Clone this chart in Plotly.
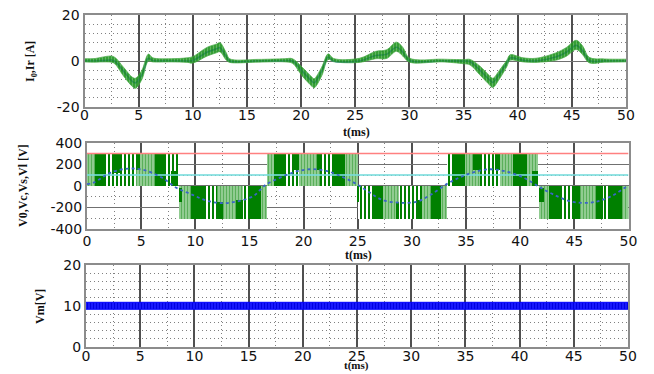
import plotly.graph_objects as go

W, H = 654, 374

# ---------------- data ----------------
t_ticks = [0, 5, 10, 15, 20, 25, 30, 35, 40, 45, 50]
t_ticklabels = ['0', '5', '10', '15', '20', '25', '30', '35', '40', '45', '50']

y1_ticks = [-20, 0, 20]
y1_labels = ['-20', '0', '20']
y2_ticks = [-400, -200, 0, 200, 400]
y2_labels = ['-400', '-200', '0', '200', '400']
y3_ticks = [0, 10, 20]
y3_labels = ['0', '10', '20']

# top panel: I0 (green, noisy) and Ir (blue reference)
i0_t = [0.0, 1.0, 2.0, 2.7, 3.6, 4.4, 4.7, 5.3, 5.9, 6.3,
        8.0, 9.5, 10.0, 11.3, 12.2, 12.5, 13.1, 13.4, 16.0, 18.5,
        19.2, 20.1, 21.0, 21.2, 21.9, 22.5, 23.0, 25.4, 26.9, 27.9,
        28.8, 29.4, 30.0, 33.0, 35.0, 35.6, 36.5, 37.4, 37.7, 38.3,
        39.0, 39.3, 40.5, 41.7, 43.5, 44.5, 45.4, 46.0, 46.6, 48.0,
        50.0]
i0_mid = [0.3, 0.3, 0.8, 0.5, -4.6, -9.0, -9.7, -6.0, 1.5, 0.5,
          0.3, 0.4, 0.5, 4.0, 5.5, 6.0, 1.9, 0.2, 0.1, 0.3,
          0.0, -4.6, -9.0, -9.7, -4.6, 1.9, 0.4, 0.3, 2.6, 3.0,
          6.2, 4.0, 0.4, 0.2, -0.3, -0.5, -4.1, -8.4, -9.5, -6.0,
          -1.0, 1.5, 0.5, 0.3, 1.9, 4.0, 7.0, 4.6, 0.4, 0.2,
          0.2]
i0_spread = [0.7, 0.8, 1.2, 1.4, 1.9, 2.0, 2.2, 2.0, 1.5, 0.9,
             0.7, 1.0, 1.4, 1.9, 1.9, 2.0, 1.6, 0.8, 0.6, 0.7,
             1.0, 1.9, 2.0, 2.0, 1.9, 1.2, 0.7, 0.9, 1.6, 1.9,
             2.0, 1.9, 0.9, 0.6, 0.9, 1.2, 1.9, 2.0, 2.0, 1.9,
             1.4, 1.2, 0.9, 0.9, 1.6, 1.9, 2.0, 1.9, 1.2, 0.7,
             0.6]
ir_v = [0, 0, 0.3, 0.2, -4.4, -8.8, -9.5, -6, 1.2, 0.2,
        0, 0, 0.2, 3.8, 5.3, 5.8, 1.8, 0, 0, 0,
        0, -4.4, -8.8, -9.5, -4.4, 1.7, 0, 0, 2.4, 2.9,
        6, 3.8, 0.2, 0, 0, -0.3, -4, -8.2, -9.3, -5.8,
        -0.8, 1.3, 0.3, 0, 1.7, 3.8, 6.8, 4.4, 0.2, 0,
        0]

# middle panel: V0 PWM blocks (start, end, low, high, kind: L=light, S=striped, D=dark)
seg_t0 = [0.0, 1.7, 4.5, 7.3,
          8.5, 10.8, 12.0, 14.4, 16.1,
          16.6, 18.3, 19.6, 21.5, 23.8,
          25.0, 27.3, 28.8, 30.9, 32.7,
          33.2, 34.9, 36.3, 38.1, 40.6,
          41.7, 43.8, 45.5, 47.6, 49.4,
          0.7, 2.3, 4.5, 6.3, 7.8,
          8.5, 9.6, 12.0, 13.8, 15.0,
          17.3, 19.0, 21.2, 22.7,
          25.0, 26.3, 28.5, 30.4, 31.8,
          33.9, 35.6, 37.7, 39.3, 41.1,
          41.7, 42.7, 45.0, 47.0, 48.2]
seg_t1 = [0.7, 4.5, 6.3, 8.4,
          9.6, 12.0, 14.4, 15.0, 16.6,
          17.3, 19.6, 21.5, 22.7, 25.0,
          26.3, 28.8, 30.9, 31.8, 33.2,
          33.9, 36.3, 38.1, 39.3, 41.6,
          42.7, 45.0, 47.0, 48.2, 50.0,
          1.7, 3.1, 4.9, 7.3, 8.3,
          8.8, 10.8, 12.6, 14.4, 16.1,
          18.3, 19.6, 21.5, 23.8,
          25.15, 27.3, 28.8, 30.9, 32.7,
          34.9, 36.3, 38.1, 40.6, 41.6,
          42.2, 43.8, 45.5, 47.6, 49.4]
seg_lo = [0, 0, 0, 0,
          -300, -300, -300, -300, -300,
          0, 0, 0, 0, 0,
          -300, -300, -300, -300, -300,
          0, 0, 0, 0, 0,
          -300, -300, -300, -300, -300,
          0, 120, 150, 0, 0,
          -150, -300, -300, -300, -300,
          0, 150, 150, 0,
          -150, -300, -300, -300, -300,
          0, 150, 150, 0, 0,
          -150, -300, -300, -300, -300]
seg_hi = [300, 300, 300, 300,
          0, 0, 0, 0, 0,
          300, 300, 300, 300, 300,
          0, 0, 0, 0, 0,
          300, 300, 300, 300, 300,
          0, 0, 0, 0, 0,
          300, 300, 300, 300, 140,
          -20, 0, -150, -130, 0,
          300, 300, 300, 300,
          0, 0, -150, -130, 0,
          300, 300, 300, 300, 140,
          -20, 0, 0, 0, 0]
seg_kind = ['L', 'S', 'L', 'S',
            'L', 'S', 'L', 'S', 'L',
            'L', 'S', 'L', 'S', 'L',
            'S', 'L', 'S', 'L', 'L',
            'S', 'L', 'S', 'L', 'L',
            'L', 'S', 'L', 'S', 'L',
            'D', 'D', 'D', 'D', 'D',
            'D', 'D', 'D', 'D', 'D',
            'D', 'D', 'D', 'D',
            'D', 'D', 'D', 'D', 'D',
            'D', 'D', 'D', 'D', 'D',
            'D', 'D', 'D', 'D', 'D']

# Vc (blue), Vs (red), Vl (cyan)
vc_t = [0, 0.6, 2.2, 3.8, 5.3, 6.9, 8.2, 9.6, 11.1, 12.6, 14.1, 15.4, 16.2,
        16.6, 19.0, 20.6, 22.1, 23.7, 24.9, 26.1, 27.3, 28.8, 30.4, 31.6,
        33.2, 34.4, 35.6, 37.2, 38.7, 40.3, 41.6, 43.0, 44.8, 46.4, 47.3,
        48.5, 49.7, 50]
vc_v = [16, 30, 123, 160, 145, 77, -15, -77, -139, -160, -139, -92, -15,
        16, 123, 154, 139, 77, 16, -62, -132, -156, -148, -92,
        16, 77, 123, 154, 133, 77, 0, -77, -148, -156, -139,
        -92, -15, 0]
vs_t = [0, 50]
vs_v = [300, 300]
vl_t = [0, 50]
vl_v = [100, 100]

# bottom panel: Vm (blue band)
vm_t = [0, 5, 10, 15, 20, 25, 30, 35, 40, 45, 50]
vm_lo = [9.2, 9.2, 9.1, 9.2, 9.2, 9.2, 9.1, 9.2, 9.2, 9.2, 9.2]
vm_hi = [10.9, 10.9, 11.0, 10.9, 10.9, 10.9, 10.9, 11.0, 10.9, 10.9, 10.9]

# ---------------- figure ----------------
def xd(l, r):
    return [l / W, r / W]

def yd(top, bottom):
    return [1 - bottom / H, 1 - top / H]

fig = go.Figure()

# top
lo1 = [m - s for m, s in zip(i0_mid, i0_spread)]
hi1 = [m + s for m, s in zip(i0_mid, i0_spread)]
fig.add_trace(go.Scatter(x=i0_t, y=ir_v, mode='lines', line=dict(color='#1f3fff', width=1.6, shape='spline'),
                         xaxis='x', yaxis='y', showlegend=False))
fig.add_trace(go.Scatter(x=i0_t, y=lo1, mode='lines', line=dict(color='rgba(70,170,70,0.7)', width=1, shape='spline'),
                         xaxis='x', yaxis='y', showlegend=False))
fig.add_trace(go.Scatter(x=i0_t, y=hi1, mode='lines', line=dict(color='rgba(70,170,70,0.7)', width=1, shape='spline'),
                         fill='tonexty', fillcolor='rgba(40,150,40,0.8)',
                         fillpattern=dict(shape='|', fgcolor='#0a850a', bgcolor='rgba(80,180,80,0.75)',
                                          size=3, solidity=0.5),
                         xaxis='x', yaxis='y', showlegend=False))

# middle: bars
styles = {
    'L': dict(color='#86c686', pattern=dict(shape='|', fgcolor='#5aaf5a', bgcolor='#a3d6a3', size=3, solidity=0.5)),
    'S': dict(color='#1a8f1a', pattern=dict(shape='|', fgcolor='#007f00', bgcolor='#ffffff', size=4, solidity=0.5)),
    'D': dict(color='#008000'),
}
for kind in ['L', 'S', 'D']:
    idx = [i for i, k in enumerate(seg_kind) if k == kind]
    xs = [(seg_t0[i] + seg_t1[i]) / 2 for i in idx]
    ws = [seg_t1[i] - seg_t0[i] for i in idx]
    bs = [seg_lo[i] for i in idx]
    hs = [seg_hi[i] - seg_lo[i] for i in idx]
    st = styles[kind]
    marker = dict(color=st['color'], line=dict(width=0))
    if 'pattern' in st:
        marker['pattern'] = st['pattern']
    fig.add_trace(go.Bar(x=xs, y=hs, base=bs, width=ws, marker=marker,
                         xaxis='x2', yaxis='y2', showlegend=False))

fig.add_trace(go.Scatter(x=vs_t, y=vs_v, mode='lines', line=dict(color='#ff8080', width=1.6),
                         xaxis='x2', yaxis='y2', showlegend=False))
fig.add_trace(go.Scatter(x=vl_t, y=vl_v, mode='lines', line=dict(color='rgba(120,220,220,0.8)', width=2),
                         xaxis='x2', yaxis='y2', showlegend=False))
fig.add_trace(go.Scatter(x=vc_t, y=vc_v, mode='lines', line=dict(color='#3a66c8', width=1.8, dash='dot', shape='spline'),
                         xaxis='x2', yaxis='y2', showlegend=False))

# bottom
fig.add_trace(go.Scatter(x=vm_t, y=vm_lo, mode='lines', line=dict(color='#0000ff', width=1),
                         xaxis='x3', yaxis='y3', showlegend=False))
fig.add_trace(go.Scatter(x=vm_t, y=vm_hi, mode='lines', line=dict(color='#0000ff', width=1),
                         fill='tonexty', fillcolor='#0a0aff',
                         fillpattern=dict(shape='|', fgcolor='#0000e0', bgcolor='#1a1aff', size=3, solidity=0.4),
                         xaxis='x3', yaxis='y3', showlegend=False))

tickfont = dict(family='DejaVu Sans', size=14, color='#111')
minor_dash = '1px,3px'

def xaxis(domain, anchor, standoff):
    return dict(domain=domain, anchor=anchor, range=[0, 50], tickmode='array',
                tickvals=t_ticks, ticktext=t_ticklabels, ticks='', tickfont=tickfont,
                automargin=False, ticklabelstandoff=standoff,
                showgrid=True, gridcolor='#505050', gridwidth=1.6, zeroline=False,
                minor=dict(dtick=2.5, tick0=0, showgrid=True, gridcolor='#808080', griddash=minor_dash, gridwidth=1),
                showline=True, mirror=True, linecolor='#8c8c8c', linewidth=2)

def yaxis(domain, anchor, rng, tv, tt, minor_dtick):
    return dict(domain=domain, anchor=anchor, range=rng, tickmode='array',
                tickvals=tv, ticktext=tt, ticks='', tickfont=tickfont,
                automargin=False,
                showgrid=True, gridcolor='#707070', gridwidth=1.4, zeroline=False,
                minor=dict(dtick=minor_dtick, tick0=0, showgrid=True, gridcolor='#808080', griddash=minor_dash, gridwidth=1),
                showline=True, mirror=True, linecolor='#8c8c8c', linewidth=2)

lab_font = dict(family='Liberation Serif', size=12, color='#111')
annotations = [
    dict(text='<b>I<sub>0</sub>,Ir [A]</b>', x=31 / W, y=1 - 62 / H, textangle=-90, yanchor='middle'),
    dict(text='<b>V0,Vc,Vs,Vl [V]</b>', x=23 / W, y=1 - 186 / H, textangle=-90, yanchor='middle'),
    dict(text='<b>Vm[V]</b>', x=40 / W, y=1 - 307 / H, textangle=-90, yanchor='middle'),
    dict(text='<b>t(ms)</b>', x=356 / W, y=1 - 132 / H, textangle=0, yanchor='middle'),
    dict(text='<b>t(ms)</b>', x=358 / W, y=1 - 255 / H, textangle=0, yanchor='middle'),
    dict(text='<b>t(ms)</b>', x=357 / W, y=0, textangle=0, yanchor='bottom'),
]
for a in annotations:
    a.update(xref='paper', yref='paper', showarrow=False, xanchor='center', font=dict(lab_font))
annotations[-1]['font'] = dict(family='Liberation Serif', size=11, color='#111')

fig.update_layout(
    template='none',
    width=W, height=H, autosize=False,
    margin=dict(l=0, r=0, t=0, b=0, pad=0),
    paper_bgcolor='white', plot_bgcolor='white',
    barmode='overlay', bargap=0,
    xaxis=xaxis(xd(84.5, 626), 'y', -6),
    yaxis=yaxis(yd(15, 107), 'x', [-20, 20], y1_ticks, y1_labels, 4),
    xaxis2=xaxis(xd(87, 628.5), 'y2', -2),
    yaxis2=yaxis(yd(142.7, 229), 'x2', [-400, 400], y2_ticks, y2_labels, 100),
    xaxis3=xaxis(xd(86, 628), 'y3', -5),
    yaxis3=yaxis(yd(265, 347), 'x3', [0, 20], y3_ticks, y3_labels, 2),
    annotations=annotations,
    showlegend=False,
)

fig.write_html('out.html')
